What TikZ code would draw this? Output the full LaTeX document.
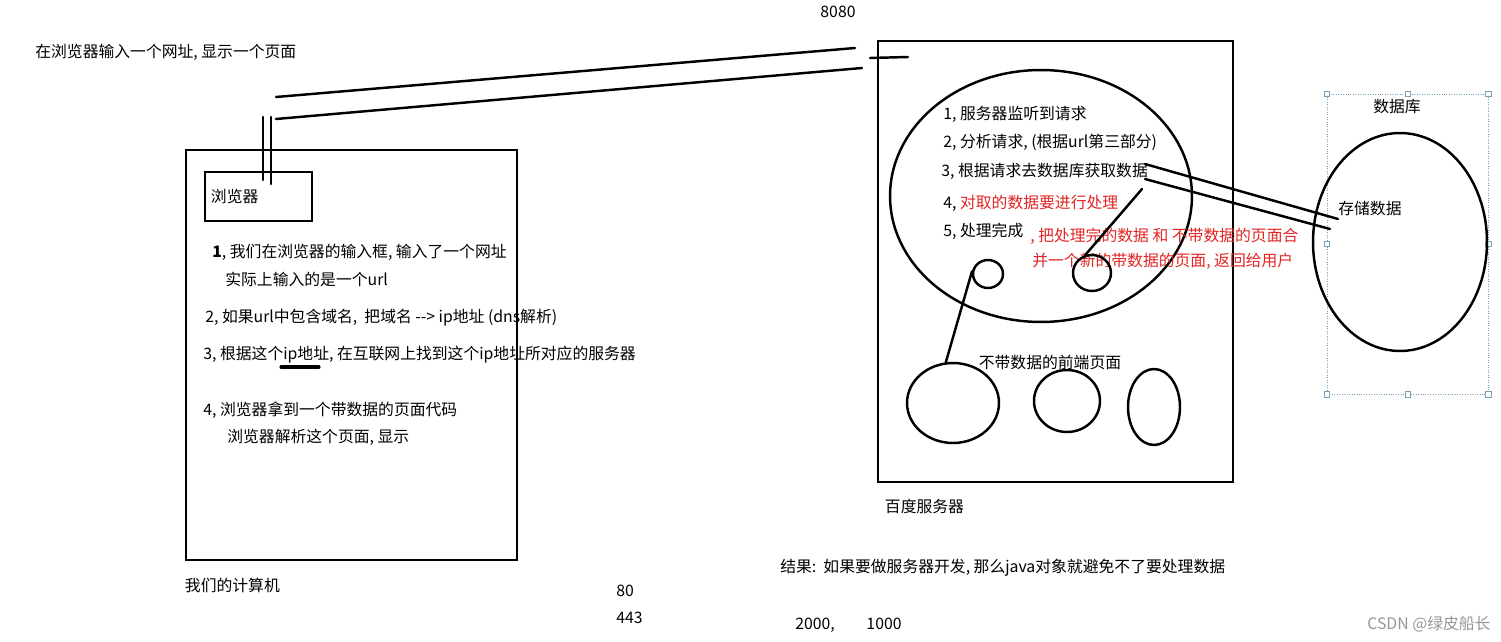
\documentclass[tikz,border=0pt]{standalone}
\usepackage{fontspec}
\setmainfont{Noto Sans CJK SC}
\usetikzlibrary{shapes.geometric,positioning}
\definecolor{mark}{RGB}{226,36,36}
\definecolor{handle}{RGB}{120,160,185}
\definecolor{stamp}{RGB}{150,150,150}

\begin{document}
\begin{tikzpicture}[
  x=0.02cm, y=-0.02cm,
  font=\fontsize{9}{11}\selectfont,
  box/.style={draw, line width=1.6pt, inner sep=0pt},
  pen/.style={line width=1.4pt, line cap=round},
  blob/.style={draw, ellipse, line width=1.4pt, inner sep=0pt},
  note/.style={inner sep=0pt, anchor=west},
  hot/.style={note, text=mark},
  grip/.style={draw=handle, fill=white, inner sep=0pt, minimum size=3pt}
]
\useasboundingbox (0,0) rectangle (1501,642);

\node[note] (title) at (35,52) {在浏览器输入一个网址, 显示一个页面};
\node (port) at (838,12) {8080};

\node[box, minimum width=6.62cm, minimum height=8.2cm] (pc) at (351.5,355) {};
\node[box, minimum width=2.14cm, minimum height=0.98cm] (browser) at (258.5,196.5) {};
\node[note, right=0.14cm of browser.west] (browsertxt) {浏览器};
\node[note, below right=0.32cm and 0cm of pc.south west, anchor=north west] (pctxt) {我们的计算机};

\node[note] (c1) at (212,252) {\textbf{1}, 我们在浏览器的输入框, 输入了一个网址};
\node[note] (c1b) at (225,279) {实际上输入的是一个url};
\node[note] (c2) at (205,318) {2, 如果url中包含域名,\ \ 把域名 -{}-> ip地址 (dns解析)};
\node[note] (c3) at (203,355) {3, 根据这个ip地址, 在互联网上找到这个ip地址所对应的服务器};
\node[note] (c4) at (203,410) {4, 浏览器拿到一个带数据的页面代码};
\node[note] (c4b) at (227,437) {浏览器解析这个页面, 显示};
\draw[pen, line width=1.8pt] (281,367) -- (319,367);

\node[note] (p80) at (616,591) {80};
\node[note] (p443) at (616,618) {443};

\node[box, minimum width=7.1cm, minimum height=8.82cm] (server) at (1055.5,261.5) {};
\node[note, below right=0.3cm and 0.16cm of server.south west, anchor=north west] (servertxt) {百度服务器};

\node[blob, minimum width=6.04cm, minimum height=5.04cm] (listen) at (1041,196) {};
\node[note] (s1) at (943,114) {1, 服务器监听到请求};
\node[note] (s2) at (943,142) {2, 分析请求, (根据url第三部分)};
\node[note] (s3) at (941,171) {3, 根据请求去数据库获取数据};
\node[note] (s4) at (943,203) {4, \textcolor{mark}{对取的数据要进行处理}};
\node[note] (s5) at (943,231) {5, 处理完成};
\node[hot] (r1) at (1030,236) {, 把处理完的数据 和 不带数据的页面合};
\node[hot] (r2) at (1032,261) {并一个新的带数据的页面, 返回给用户};

\node[blob, minimum width=0.6cm, minimum height=0.56cm] (dot1) at (988,274) {};
\node[blob, minimum width=0.76cm, minimum height=0.72cm] (dot2) at (1092,273) {};

\node (front) at (1050,362) {不带数据的前端页面};
\node[blob, minimum width=1.84cm, minimum height=1.6cm] (page1) at (953,403) {};
\node[blob, minimum width=1.32cm, minimum height=1.24cm] (page2) at (1067,401) {};
\node[blob, minimum width=1.04cm, minimum height=1.52cm] (page3) at (1154,407) {};

\node[draw=handle, densely dotted, minimum width=3.22cm, minimum height=6cm] (dbframe) at (1407.5,244) {};
\foreach \a in {north west, north, north east, east, south east, south, south west, west}
  \node[grip] at (dbframe.\a) {};
\node (dbtxt) at (1397,107) {数据库};
\node[blob, minimum width=3.48cm, minimum height=4.36cm] (db) at (1400,242) {};
\node[note] (store) at (1338,208) {存储数据};

\coordinate (u1a) at (276,97);
\coordinate (u1b) at (855,48);
\coordinate (u2a) at (276,119);
\coordinate (u2b) at (862,68);
\coordinate (tick1) at (870,58);
\coordinate (tick2) at (908,57);
\coordinate (v1a) at (263,117);
\coordinate (v1b) at (263,180);
\coordinate (v2a) at (271,117);
\coordinate (v2b) at (271,184);
\coordinate (q1a) at (1145,164);
\coordinate (q1b) at (1338,219);
\coordinate (q2a) at (1145,179);
\coordinate (q2b) at (1330,229);
\coordinate (tail) at (1142,189);

\draw[pen] (u1a) -- (u1b);
\draw[pen] (u2a) -- (u2b);
\draw[pen] (tick1) -- (tick2);
\draw[pen] (v1a) -- (v1b);
\draw[pen] (v2a) -- (v2b);
\draw[pen] (q1a) -- (q1b);
\draw[pen] (q2a) -- (q2b);
\draw[pen] (dot1.170) -- (page1.100);
\draw[pen] (dot2.110) -- (tail);

\node[note] (result) at (780,568) {结果:\ \ 如果要做服务器开发, 那么java对象就避免不了要处理数据};
\node[note] (cost) at (795,625) {2000,\hspace{2em}1000};
\node[note, text=stamp] (csdn) at (1367,624) {CSDN @绿皮船长};
\end{tikzpicture}
\end{document}
